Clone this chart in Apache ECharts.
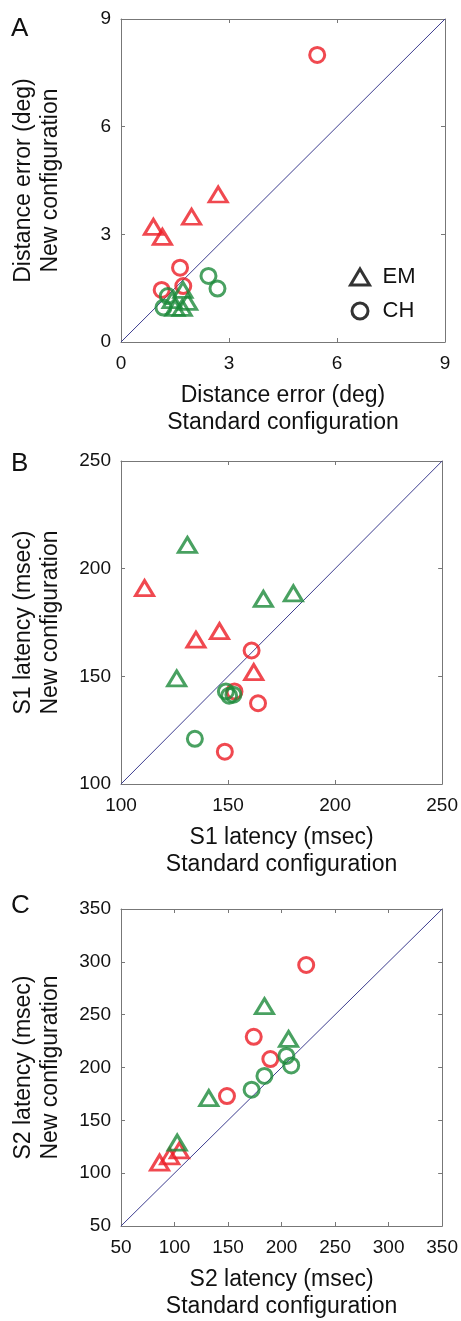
<!DOCTYPE html>
<html>
<head>
<meta charset="utf-8">
<script src="https://cdn.jsdelivr.net/npm/echarts@6/dist/echarts.min.js"></script>
<style>
  html, body { margin: 0; padding: 0; background: #fff; }
  #chart { width: 461px; height: 1321px; }
</style>
</head>
<body>
<div id="chart"></div>
<script>
// panel A: distance error (deg), [standard, new]
var emRedA   = [[0.9, 3.21], [1.15, 2.93], [1.96, 3.49], [2.7, 4.11]];
var emGreenA = [[1.42, 1.17], [1.72, 1.45], [1.5, 0.95], [1.7, 0.95], [1.85, 1.12]];
var chRedA   = [[1.13, 1.45], [1.64, 2.07], [1.73, 1.56], [5.45, 8.0]];
var chGreenA = [[1.18, 0.96], [1.3, 1.28], [2.43, 1.84], [2.68, 1.49]];

// panel B: S1 latency (msec)
var emRedB   = [[111, 191], [135, 167], [146, 171], [162, 152]];
var emGreenB = [[131, 211], [126, 149], [166.5, 186], [180.5, 188.5]];
var chRedB   = [[161, 162], [164, 137.5], [148.5, 115], [153, 143]];
var chGreenB = [[134.5, 121], [149, 143], [150.5, 141], [152.5, 141.5]];

// panel C: S2 latency (msec)
var emRedC   = [[86, 110], [95.5, 116], [104.5, 121.5]];
var emGreenC = [[102.5, 129], [132, 171], [184, 258], [206.5, 227]];
var chRedC   = [[149, 173], [174, 229], [189.5, 208], [223, 297]];
var chGreenC = [[172, 179], [184, 192], [204.5, 211], [209, 202]];

// axis limits [min, max, step]
var limitsA = [0, 9, 3];
var limitsB = [100, 250, 50];
var limitsC = [50, 350, 50];

var panelLabels = ['A', 'B', 'C'];
var xTitles = ['Distance error (deg)\nStandard configuration',
               'S1 latency (msec)\nStandard configuration',
               'S2 latency (msec)\nStandard configuration'];
var yTitles = ['Distance error (deg)\nNew configuration',
               'S1 latency (msec)\nNew configuration',
               'S2 latency (msec)\nNew configuration'];

var RED = '#ec1c24';
var GREEN = '#1b8a3a';
var FONT = "'Liberation Sans', Arial, sans-serif";

var panels = [
  { top: 19,  lim: limitsA, emR: emRedA, emG: emGreenA, chR: chRedA, chG: chGreenA, labelTop: 16 },
  { top: 461, lim: limitsB, emR: emRedB, emG: emGreenB, chR: chRedB, chG: chGreenB, labelTop: 451 },
  { top: 909, lim: limitsC, emR: emRedC, emG: emGreenC, chR: chRedC, chG: chGreenC, labelTop: 893 }
];

var grids = [], xAxes = [], yAxes = [], series = [], graphics = [];

function axisBase(i, lim) {
  return {
    gridIndex: i, type: 'value', min: lim[0], max: lim[1], interval: lim[2],
    axisLine: { show: true, onZero: false, lineStyle: { color: '#777', width: 1 } },
    axisTick: { show: true, inside: true, length: 4, lineStyle: { color: '#777' } },
    splitLine: { show: false }
  };
}

function marker(name, i, data, sym, color, size) {
  return {
    name: name, type: 'scatter', xAxisIndex: 2 * i, yAxisIndex: 2 * i,
    data: data, symbol: sym, symbolSize: size,
    itemStyle: { color: 'transparent', borderColor: color, borderWidth: 3 },
    z: 3
  };
}

panels.forEach(function (p, i) {
  grids.push({ left: 121, width: 324, top: p.top, height: 323 });

  var xb = axisBase(i, p.lim);
  xb.position = 'bottom';
  xb.axisLabel = { color: '#111', fontSize: 19, margin: 12, fontFamily: FONT };
  xb.name = xTitles[i];
  xb.nameLocation = 'middle';
  xb.nameGap = 40;
  xb.nameTextStyle = { color: '#111', fontSize: 23, lineHeight: 27, fontFamily: FONT };
  var xt = axisBase(i, p.lim);
  xt.position = 'top';
  xt.axisLabel = { show: false };
  xAxes.push(xb, xt);

  var yl = axisBase(i, p.lim);
  yl.position = 'left';
  yl.axisLabel = { color: '#111', fontSize: 19, margin: 10, fontFamily: FONT };
  yl.name = yTitles[i];
  yl.nameLocation = 'middle';
  yl.nameGap = 57;
  yl.nameTextStyle = { color: '#111', fontSize: 23, lineHeight: 27, fontFamily: FONT };
  var yr = axisBase(i, p.lim);
  yr.position = 'right';
  yr.axisLabel = { show: false };
  yAxes.push(yl, yr);

  series.push({
    type: 'line', xAxisIndex: 2 * i, yAxisIndex: 2 * i,
    data: [[p.lim[0], p.lim[0]], [p.lim[1], p.lim[1]]],
    symbol: 'none', silent: true, z: 1,
    lineStyle: { color: '#3d3d8f', width: 1 }
  });
  series.push(marker('EM red', i, p.emR, 'triangle', RED, [18, 15]));
  series.push(marker('CH red', i, p.chR, 'circle', RED, 15));
  series.push(marker('EM green', i, p.emG, 'triangle', GREEN, [18, 15]));
  series.push(marker('CH green', i, p.chG, 'circle', GREEN, 15));

  graphics.push({
    type: 'text', left: 11, top: p.labelTop,
    style: { text: panelLabels[i], fontSize: 26, fill: '#111', fontFamily: FONT }
  });
});

// legend-only series (black symbols)
series.push({ name: 'EM', type: 'scatter', xAxisIndex: 0, yAxisIndex: 0, data: [], symbol: 'triangle',
  itemStyle: { color: 'transparent', borderColor: '#000', borderWidth: 3 } });
series.push({ name: 'CH', type: 'scatter', xAxisIndex: 0, yAxisIndex: 0, data: [], symbol: 'circle',
  itemStyle: { color: 'transparent', borderColor: '#000', borderWidth: 3 } });

var chart = echarts.init(document.getElementById('chart'));
chart.setOption({
  animation: false,
  backgroundColor: '#fff',
  textStyle: { fontFamily: FONT },
  grid: grids,
  xAxis: xAxes,
  yAxis: yAxes,
  legend: {
    data: [{ name: 'EM', icon: 'triangle' }, { name: 'CH', icon: 'circle' }],
    orient: 'vertical', left: 344, top: 261,
    itemWidth: 19, itemHeight: 16, itemGap: 12,
    textStyle: { fontSize: 22, color: '#111', padding: [0, 0, 0, 8] },
    itemStyle: { color: 'transparent', borderColor: '#000', borderWidth: 3 }
  },
  graphic: graphics,
  series: series
});
</script>
</body>
</html>
